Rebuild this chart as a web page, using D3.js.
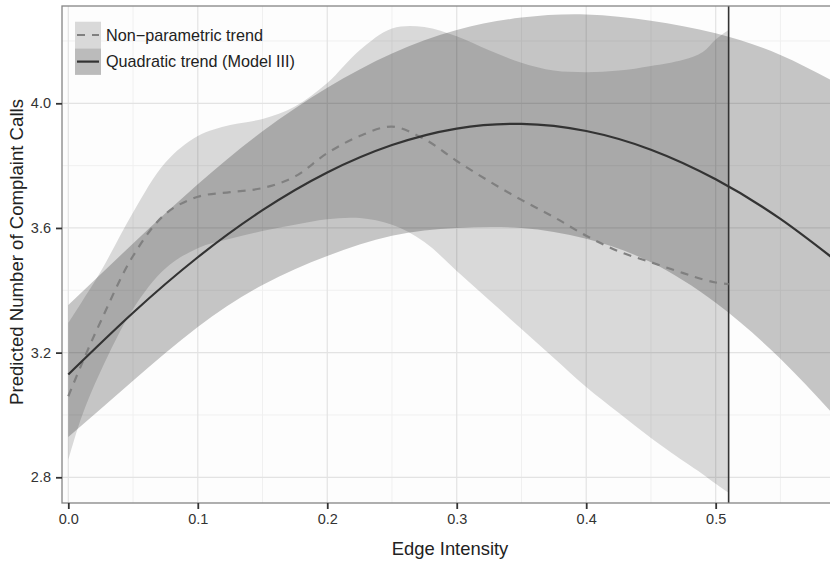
<!DOCTYPE html>
<html>
<head>
<meta charset="utf-8">
<script src="https://cdn.jsdelivr.net/npm/d3@7"></script>
<style>
  html, body { margin: 0; padding: 0; background: #ffffff; }
  svg { display: block; }
  text { font-family: "Liberation Sans", Arial, Helvetica, sans-serif; }
</style>
</head>
<body>
<svg id="chart" width="830" height="563"></svg>
<script>
// ---------- data ----------
const xTicks = [0, 0.1, 0.2, 0.3, 0.4, 0.5];
const xMinor = [0.05, 0.15, 0.25, 0.35, 0.45, 0.55];
const yTicks = [2.8, 3.2, 3.6, 4.0];
const yMinor = [3.0, 3.4, 3.8, 4.2];
const cutoff = 0.51;

const legendLabels = ["Non\u2212parametric trend", "Quadratic trend (Model III)"];

// Quadratic trend (Model III) with confidence band
const quadX   = [0, 0.05, 0.1, 0.15, 0.2, 0.25, 0.3, 0.35, 0.4, 0.45, 0.5, 0.55, 0.6];
const quadFit = [3.130, 3.328, 3.506, 3.657, 3.778, 3.866, 3.919, 3.934, 3.911, 3.851, 3.756, 3.629, 3.472];
const quadHi  = [3.353, 3.55, 3.74, 3.91, 4.05, 4.16, 4.235, 4.275, 4.285, 4.265, 4.225, 4.155, 4.05];
const quadLo  = [2.929, 3.11, 3.282, 3.417, 3.51, 3.575, 3.60, 3.60, 3.565, 3.49, 3.36, 3.18, 2.96];

// Non-parametric trend with confidence band
const npX   = [0, 0.01, 0.025, 0.05, 0.075, 0.1, 0.125, 0.15, 0.175, 0.2, 0.225, 0.25, 0.275, 0.3, 0.325, 0.35, 0.375, 0.4, 0.425, 0.45, 0.475, 0.49, 0.5, 0.51];
const npFit = [3.06, 3.16, 3.30, 3.51, 3.645, 3.70, 3.715, 3.728, 3.765, 3.84, 3.895, 3.925, 3.885, 3.815, 3.75, 3.69, 3.635, 3.575, 3.525, 3.49, 3.455, 3.435, 3.425, 3.42];
const npHi  = [3.295, 3.36, 3.46, 3.65, 3.81, 3.895, 3.93, 3.95, 3.99, 4.065, 4.17, 4.24, 4.245, 4.215, 4.17, 4.13, 4.105, 4.10, 4.105, 4.12, 4.14, 4.165, 4.205, 4.235];
const npLo  = [2.855, 2.99, 3.14, 3.34, 3.47, 3.535, 3.565, 3.59, 3.61, 3.628, 3.632, 3.61, 3.555, 3.462, 3.369, 3.276, 3.183, 3.09, 3.007, 2.926, 2.852, 2.81, 2.779, 2.75];

// ---------- layout ----------
const P = { left: 62, top: 6, right: 830, bottom: 503 };
const svg = d3.select("#chart");

const x = d3.scaleLinear().domain([-0.00487, 0.5883]).range([P.left, P.right]);
const y = d3.scaleLinear().domain([2.7175, 4.3122]).range([P.bottom, P.top]);

svg.append("defs").append("clipPath").attr("id", "panel")
  .append("rect").attr("x", P.left).attr("y", P.top)
  .attr("width", P.right - P.left).attr("height", P.bottom - P.top);

// panel background
svg.append("rect").attr("x", P.left).attr("y", P.top)
  .attr("width", P.right - P.left).attr("height", P.bottom - P.top)
  .attr("fill", "#fdfdfd");

const grid = svg.append("g").attr("clip-path", "url(#panel)");
// minor grid
grid.selectAll(".xm").data(xMinor).join("line")
  .attr("x1", d => x(d)).attr("x2", d => x(d)).attr("y1", P.top).attr("y2", P.bottom)
  .attr("stroke", "#f0f0f0").attr("stroke-width", 1);
grid.selectAll(".ym").data(yMinor).join("line")
  .attr("y1", d => y(d)).attr("y2", d => y(d)).attr("x1", P.left).attr("x2", P.right)
  .attr("stroke", "#f0f0f0").attr("stroke-width", 1);
// major grid
grid.selectAll(".xM").data(xTicks).join("line")
  .attr("x1", d => x(d)).attr("x2", d => x(d)).attr("y1", P.top).attr("y2", P.bottom)
  .attr("stroke", "#e3e3e3").attr("stroke-width", 1.2);
grid.selectAll(".yM").data(yTicks).join("line")
  .attr("y1", d => y(d)).attr("y2", d => y(d)).attr("x1", P.left).attr("x2", P.right)
  .attr("stroke", "#e3e3e3").attr("stroke-width", 1.2);

const plot = svg.append("g").attr("clip-path", "url(#panel)");

const npData = npX.map((v, i) => ({ x: v, fit: npFit[i], lo: npLo[i], hi: npHi[i] }));
const quadData = quadX.map((v, i) => ({ x: v, fit: quadFit[i], lo: quadLo[i], hi: quadHi[i] }));

const npArea = d3.area().x(d => x(d.x)).y0(d => y(d.lo)).y1(d => y(d.hi)).curve(d3.curveCatmullRom.alpha(0.5));
const quadArea = d3.area().x(d => x(d.x)).y0(d => y(d.lo)).y1(d => y(d.hi)).curve(d3.curveNatural);

plot.append("path").datum(npData).attr("d", npArea).attr("fill", "#000").attr("fill-opacity", 0.14);
plot.append("path").datum(quadData).attr("d", quadArea).attr("fill", "#000").attr("fill-opacity", 0.22);

// vertical reference line
plot.append("line").attr("x1", x(cutoff)).attr("x2", x(cutoff))
  .attr("y1", P.top).attr("y2", P.bottom)
  .attr("stroke", "#333").attr("stroke-width", 1.6);

const npLine = d3.line().x(d => x(d.x)).y(d => y(d.fit)).curve(d3.curveCatmullRom.alpha(0.5));
const quadLine = d3.line().x(d => x(d.x)).y(d => y(d.fit)).curve(d3.curveNatural);

plot.append("path").datum(npData).attr("d", npLine)
  .attr("fill", "none").attr("stroke", "#808080").attr("stroke-width", 2.2)
  .attr("stroke-dasharray", "8,7");
plot.append("path").datum(quadData).attr("d", quadLine)
  .attr("fill", "none").attr("stroke", "#333333").attr("stroke-width", 2.2);

// panel border
svg.append("rect").attr("x", P.left).attr("y", P.top)
  .attr("width", P.right - P.left + 2).attr("height", P.bottom - P.top)
  .attr("fill", "none").attr("stroke", "#858585").attr("stroke-width", 1.3);

// axes
const xAxis = d3.axisBottom(x).tickValues(xTicks).tickFormat(d3.format(".1f")).tickSize(6).tickPadding(5);
const yAxis = d3.axisLeft(y).tickValues(yTicks).tickFormat(d3.format(".1f")).tickSize(6).tickPadding(5);

const gx = svg.append("g").attr("transform", `translate(0,${P.bottom})`).call(xAxis);
const gy = svg.append("g").attr("transform", `translate(${P.left},0)`).call(yAxis);
[gx, gy].forEach(g => {
  g.select(".domain").remove();
  g.selectAll(".tick line").attr("stroke", "#333").attr("stroke-width", 1.8);
  g.selectAll(".tick text").attr("fill", "#333").attr("font-size", "14.5px")
    .attr("font-family", '"Liberation Sans", Arial, sans-serif');
});

// axis titles
svg.append("text").attr("x", 450).attr("y", 555).attr("text-anchor", "middle")
  .attr("font-size", "18.4px").attr("fill", "#222").text("Edge Intensity");
svg.append("text").attr("transform", `translate(23,252) rotate(-90)`).attr("text-anchor", "middle")
  .attr("font-size", "18.6px").attr("fill", "#222").text("Predicted Number of Complaint Calls");

// legend
const lg = svg.append("g");
const keyX = 75, keyW = 26, keyH = 26.6, keyY0 = 21.7;
[0, 1].forEach(i => {
  const ky = keyY0 + i * keyH;
  lg.append("rect").attr("x", keyX).attr("y", ky).attr("width", keyW).attr("height", keyH)
    .attr("fill", "#fdfdfd");
  lg.append("rect").attr("x", keyX).attr("y", ky).attr("width", keyW).attr("height", keyH)
    .attr("fill", "#000").attr("fill-opacity", i === 0 ? 0.14 : 0.26);
  lg.append("line").attr("x1", keyX + 2).attr("x2", keyX + keyW - 2)
    .attr("y1", ky + keyH / 2).attr("y2", ky + keyH / 2)
    .attr("stroke", i === 0 ? "#808080" : "#333333").attr("stroke-width", 2.2)
    .attr("stroke-dasharray", i === 0 ? "8,7" : null);
  lg.append("text").attr("x", 106).attr("y", ky + keyH / 2).attr("dy", "0.35em")
    .attr("font-size", "16.2px").attr("fill", "#222").text(legendLabels[i]);
});
</script>
</body>
</html>
